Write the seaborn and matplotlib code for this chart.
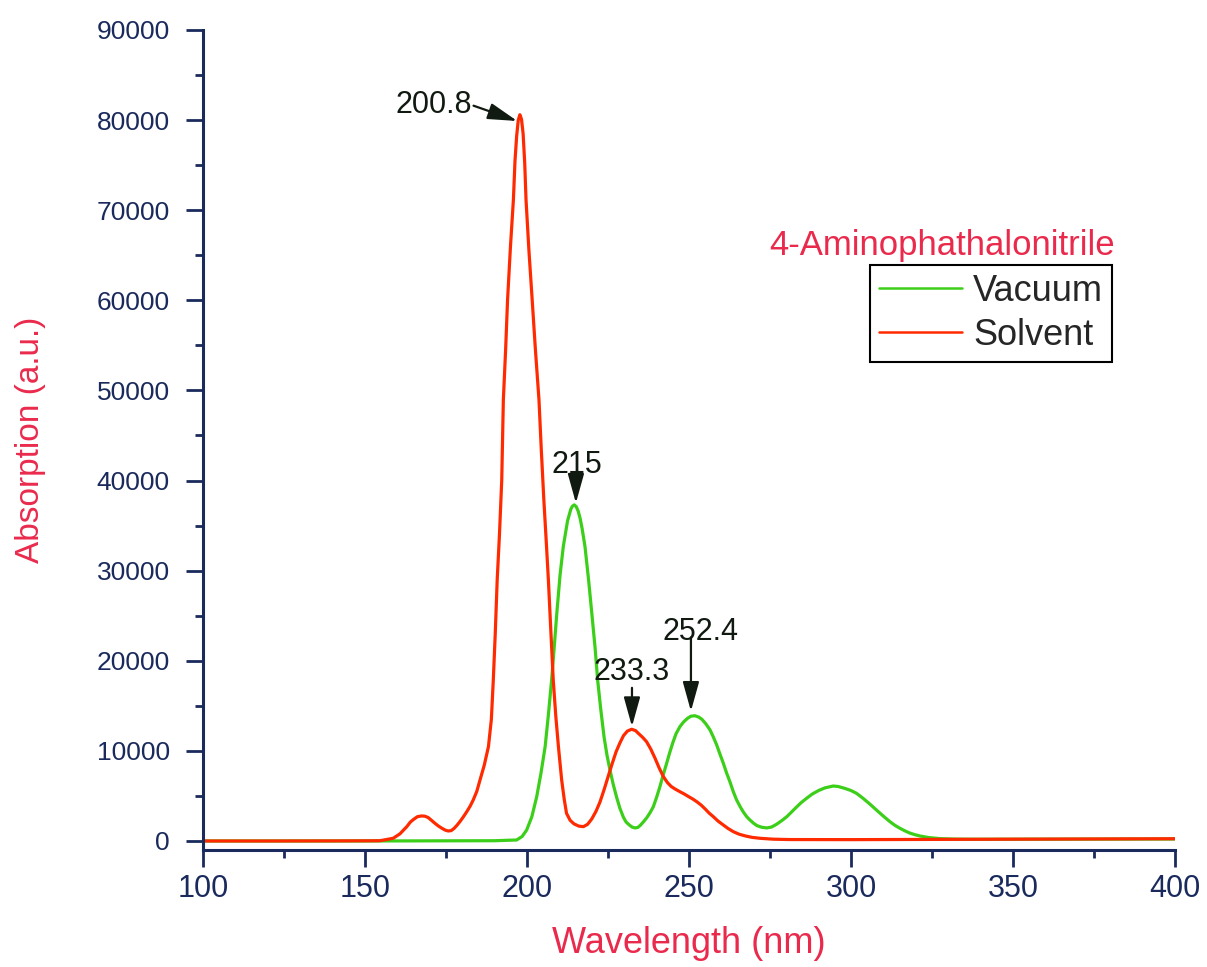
import numpy as np
import pandas as pd
import matplotlib
matplotlib.use("Agg")
import matplotlib.pyplot as plt
import seaborn as sns
from matplotlib import font_manager
from matplotlib.ticker import MultipleLocator
from matplotlib.lines import Line2D

# ---------------- data ----------------
solvent_wl = [100, 120, 140, 150, 154.6, 158.7, 160.8, 162.9, 164.0, 165.0, 166.2, 167.5,
              168.5, 169.5, 170.5, 171.6, 172.7, 173.8, 174.8, 175.7, 176.6, 177.5, 178.4,
              179.3, 180.4, 181.5, 182.5, 183.4, 184.5, 185.5, 186.8, 188.1, 189.0, 189.6,
              190.2, 190.8, 191.5, 192.2, 192.7, 193.4, 194.0, 194.9, 195.8, 196.3, 196.8,
              197.3, 197.8, 198.3, 198.8, 199.3, 199.7, 200.6, 201.6, 202.6, 203.7, 204.4,
              205.2, 205.9, 206.6, 207.4, 208.1, 208.9, 209.7, 210.7, 211.5, 212.2, 213.3,
              214.5, 216.0, 217.4, 218.7, 220.0, 221.3, 222.5, 223.8, 225.0, 226.3, 227.5,
              228.7, 229.8, 231.0, 232.3, 233.5, 234.5, 235.7, 236.9, 238.2, 239.5, 240.8,
              242.1, 243.3, 244.5, 245.8, 247.2, 248.6, 250.0, 251.2, 252.4, 253.7, 255.0,
              256.2, 257.5, 259.0, 260.5, 262.0, 263.7, 265.5, 267.5, 269.5, 271.9, 276.0,
              281.0, 300.0, 350.0, 400.0]
solvent_abs = [0, 0, 10, 20, 30, 300, 800, 1590, 2100, 2400, 2700, 2780,
               2750, 2600, 2300, 1960, 1650, 1400, 1200, 1110, 1150, 1400, 1750,
               2150, 2700, 3300, 3900, 4550, 5500, 6770, 8400, 10470, 13500, 17870,
               23000, 28970, 34000, 40000, 48950, 54500, 60050, 66000, 71150, 75500, 78200,
               80000, 80600, 80100, 78500, 75200, 71150, 65500, 60050, 54500, 48950, 43500,
               37850, 33500, 28970, 23000, 17870, 13800, 10470, 6770, 4600, 3070, 2300,
               1900, 1650, 1590, 1850, 2450, 3300, 4300, 5700, 7100, 8600, 9900,
               10900, 11700, 12200, 12400, 12250, 11900, 11500, 11020, 10200, 9200, 8100,
               7140, 6500, 6050, 5750, 5470, 5200, 4900, 4650, 4360, 4000, 3550,
               3100, 2700, 2200, 1800, 1400, 1030, 750, 550, 400, 300, 200,
               160, 150, 200, 250]

vacuum_wl = [100, 150, 190, 196.8, 198.5, 199.9, 201.5, 203.0, 204.3, 205.6, 206.6, 207.6,
             208.4, 209.2, 210.2, 211.2, 212.5, 213.5, 214.0, 214.6, 215.2, 215.8, 216.4,
             217.0, 217.9, 219.0, 220.0, 221.0, 221.8, 222.8, 223.8, 224.7, 225.6, 226.6,
             227.7, 228.7, 229.8, 230.6, 231.5, 232.4, 233.3, 234.2, 235.0, 236.0, 237.0,
             238.0, 239.0, 240.0, 241.0, 242.0, 243.1, 244.0, 245.0, 246.0, 247.2, 248.3,
             249.5, 250.6, 251.8, 253.0, 254.0, 255.2, 256.5, 257.5, 258.5, 259.5, 260.6,
             261.6, 262.7, 263.7, 264.7, 265.8, 266.8, 267.8, 268.8, 270.0, 271.0, 272.5,
             274.0, 275.5, 277.0, 278.6, 280.2, 281.6, 283.0, 284.6, 286.3, 288.0, 290.0,
             292.0, 294.5, 296.0, 298.0, 300.0, 301.7, 303.5, 305.5, 307.2, 309.0, 310.5,
             312.0, 313.5, 315.1, 316.5, 318.0, 319.7, 321.3, 324.0, 327.5, 332.0, 337.7,
             360.0, 400.0]
vacuum_abs = [0, 0, 30, 111, 500, 1220, 2700, 4920, 7500, 10470, 14000, 17870,
              21500, 25270, 29500, 32670, 35500, 36800, 37150, 37300, 37100, 36600, 35800,
              34700, 32670, 29000, 25270, 21500, 17870, 14500, 11500, 9500, 7900, 6300,
              4800, 3600, 2600, 2100, 1800, 1550, 1450, 1500, 1750, 2150, 2600,
              3150, 3810, 4850, 6000, 7300, 8620, 9750, 10900, 11900, 12690, 13200,
              13600, 13850, 13900, 13750, 13500, 13000, 12320, 11550, 10700, 9700, 8620,
              7550, 6500, 5450, 4550, 3800, 3200, 2700, 2330, 1950, 1700, 1520,
              1450, 1550, 1850, 2250, 2700, 3200, 3700, 4250, 4740, 5200, 5600,
              5900, 6100, 6050, 5850, 5600, 5290, 4800, 4200, 3650, 3070, 2600,
              2150, 1750, 1410, 1150, 900, 700, 555, 380, 260, 210, 190,
              200, 220]

series_names = ["Vacuum", "Solvent"]
series_colors = {"Vacuum": "#3ccf1a", "Solvent": "#ff2a00"}

peak_labels = ["200.8", "215", "233.3", "252.4"]
peak_tips = [(197.0, 79900), (215.1, 37500), (232.4, 12700), (250.6, 14400)]
peak_tails = [(183.5, 81600), (215.1, 39800), (232.4, 17000), (250.6, 22600)]
peak_text_pos = [(183.0, 81700), (215.4, 41700), (232.4, 18800), (253.4, 23200)]
peak_text_ha = ["right", "center", "center", "center"]

x_ticks = [100, 150, 200, 250, 300, 350, 400]
y_ticks = [0, 10000, 20000, 30000, 40000, 50000, 60000, 70000, 80000, 90000]

# ---------------- style ----------------
sns.set_style("ticks")
names = {f.name for f in font_manager.fontManager.ttflist}
narrow = "Liberation Sans Narrow" if "Liberation Sans Narrow" in names else "Liberation Sans"
plt.rcParams["font.family"] = ["Liberation Sans", "DejaVu Sans"]

navy = "#1b2a5c"
crimson = "#ea2a4c"

df = pd.concat([
    pd.DataFrame({"Wavelength": vacuum_wl, "Absorption": vacuum_abs, "Series": "Vacuum"}),
    pd.DataFrame({"Wavelength": solvent_wl, "Absorption": solvent_abs, "Series": "Solvent"}),
], ignore_index=True)

fig = plt.figure(figsize=(12.07, 9.67), dpi=100)
ax = fig.add_axes([203 / 1207, 1 - 850 / 967, (1175 - 203) / 1207, (850 - 30) / 967])

sns.lineplot(data=df, x="Wavelength", y="Absorption", hue="Series",
             hue_order=series_names, palette=series_colors, estimator=None,
             sort=True, linewidth=2.3, ax=ax, legend=False)

ax.set_xlim(100, 400)
ax.set_ylim(-1000, 90000)
ax.set_xticks(x_ticks)
ax.set_yticks(y_ticks)
ax.xaxis.set_minor_locator(MultipleLocator(25))
ax.yaxis.set_minor_locator(MultipleLocator(5000))

for side in ["top", "right"]:
    ax.spines[side].set_visible(False)
for side in ["left", "bottom"]:
    ax.spines[side].set_color(navy)
    ax.spines[side].set_linewidth(2.2)

ax.tick_params(axis="both", which="major", direction="out", length=12, width=2, color=navy)
ax.tick_params(axis="both", which="minor", direction="out", length=6, width=2, color=navy)
ax.tick_params(axis="y", which="major", pad=12, labelsize=19, labelcolor=navy)
ax.tick_params(axis="x", which="major", pad=5, labelsize=22, labelcolor=navy)
for lab in ax.get_xticklabels():
    lab.set_family(narrow)

ax.set_xlabel("Wavelength (nm)", fontsize=26, color=crimson, labelpad=16)
ax.set_ylabel("Absorption (a.u.)", fontsize=24, color=crimson, labelpad=36)
ax.xaxis.label.set_family(narrow)
ax.yaxis.label.set_family(narrow)

# peak annotations
for lab, tip, tail, tpos, ha in zip(peak_labels, peak_tips, peak_tails, peak_text_pos, peak_text_ha):
    ax.annotate("", xy=tip, xytext=tail,
                arrowprops=dict(arrowstyle="-|>,head_width=0.25,head_length=0.9",
                                color="#111a11", lw=1.6, mutation_scale=20,
                                shrinkA=0, shrinkB=0))
    ax.text(tpos[0], tpos[1], lab, ha=ha, va="center", fontsize=22, color="#111a11")

# title + legend
fig.text(1115 / 1207, 1 - 245 / 967, "4-Aminophathalonitrile", ha="right", va="center",
         fontsize=25, color=crimson)
handles = [Line2D([], [], color=series_colors[n], lw=1.8) for n in series_names]
leg = fig.legend(handles, series_names, loc="upper right",
                 bbox_to_anchor=(1112 / 1207, 1 - 265 / 967), bbox_transform=fig.transFigure,
                 fontsize=26, frameon=True, fancybox=False, framealpha=1,
                 edgecolor="black", handlelength=2.3, handletextpad=0.3,
                 borderpad=0.25, labelspacing=0.25, borderaxespad=0)
leg.get_frame().set_linewidth(1.5)

fig.savefig("out.png", dpi=100)
